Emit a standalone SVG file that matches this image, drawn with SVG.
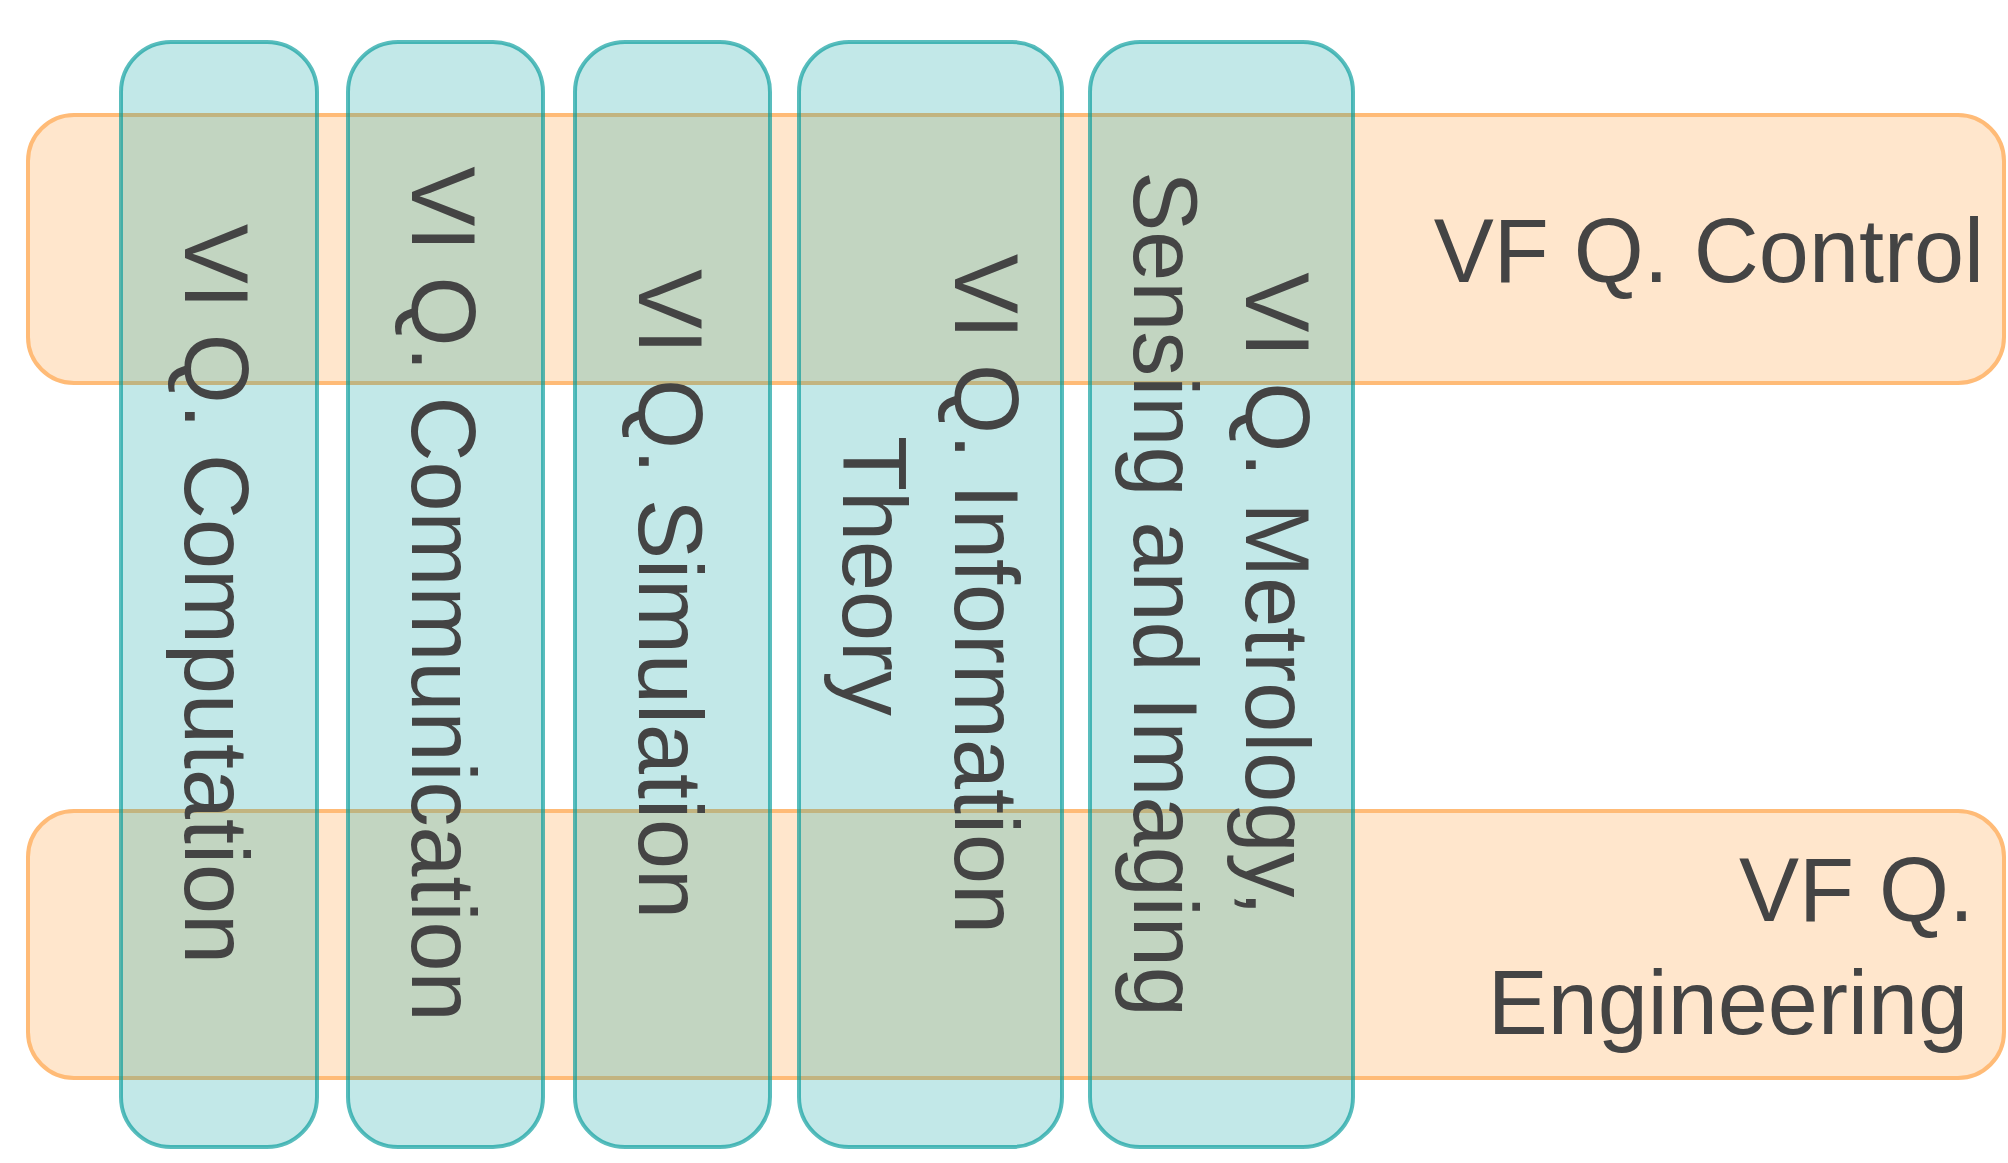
<svg xmlns="http://www.w3.org/2000/svg" width="2008" height="1163" viewBox="0 0 2008 1163">
<style>
.row rect{fill:#ffe6cc;stroke:#ffbb77;stroke-width:4}
.col rect{fill:#009f9f;fill-opacity:0.24;stroke:#009a9a;stroke-opacity:0.65;stroke-width:4}
text{font-family:"Liberation Sans",Arial,sans-serif;font-size:90px;fill:#444}
.h{text-anchor:end}
.v{text-anchor:middle}
</style>
<rect width="2008" height="1163" fill="#ffffff"/>
<g id="vf-control" class="row">
<rect x="28" y="115" width="1976" height="268" rx="46" ry="46"/>
<text class="h" x="1984" y="282">VF Q. Control</text>
</g>
<g id="vf-engineering" class="row">
<rect x="28" y="811" width="1976" height="267" rx="46" ry="46"/>
<text class="h" x="1974" y="921">VF Q.</text>
<text class="h" x="1968" y="1034">Engineering</text>
</g>
<g id="vi-computation" class="col">
<rect x="121" y="42" width="196" height="1105" rx="50" ry="50"/>
<text class="v" transform="translate(219,594) rotate(90)" x="0" y="34">VI Q. Computation</text>
</g>
<g id="vi-communication" class="col">
<rect x="348" y="42" width="195" height="1105" rx="50" ry="50"/>
<text class="v" transform="translate(445.5,594) rotate(90)" x="0" y="34">VI Q. Communication</text>
</g>
<g id="vi-simulation" class="col">
<rect x="575" y="42" width="195" height="1105" rx="50" ry="50"/>
<text class="v" transform="translate(672.5,594) rotate(90)" x="0" y="34">VI Q. Simulation</text>
</g>
<g id="vi-information-theory" class="col">
<rect x="799" y="42" width="263" height="1105" rx="50" ry="50"/>
<text class="v" transform="translate(930.5,594) rotate(90)"><tspan x="0" y="-24">VI Q. Information</tspan><tspan x="-18" y="88">Theory</tspan></text>
</g>
<g id="vi-metrology" class="col">
<rect x="1090" y="42" width="263" height="1105" rx="50" ry="50"/>
<text class="v" transform="translate(1221.5,594) rotate(90)"><tspan x="0" y="-24">VI Q. Metrology,</tspan><tspan x="0" y="88">Sensing and Imaging</tspan></text>
</g>
<g id="connectors"></g>
</svg>
